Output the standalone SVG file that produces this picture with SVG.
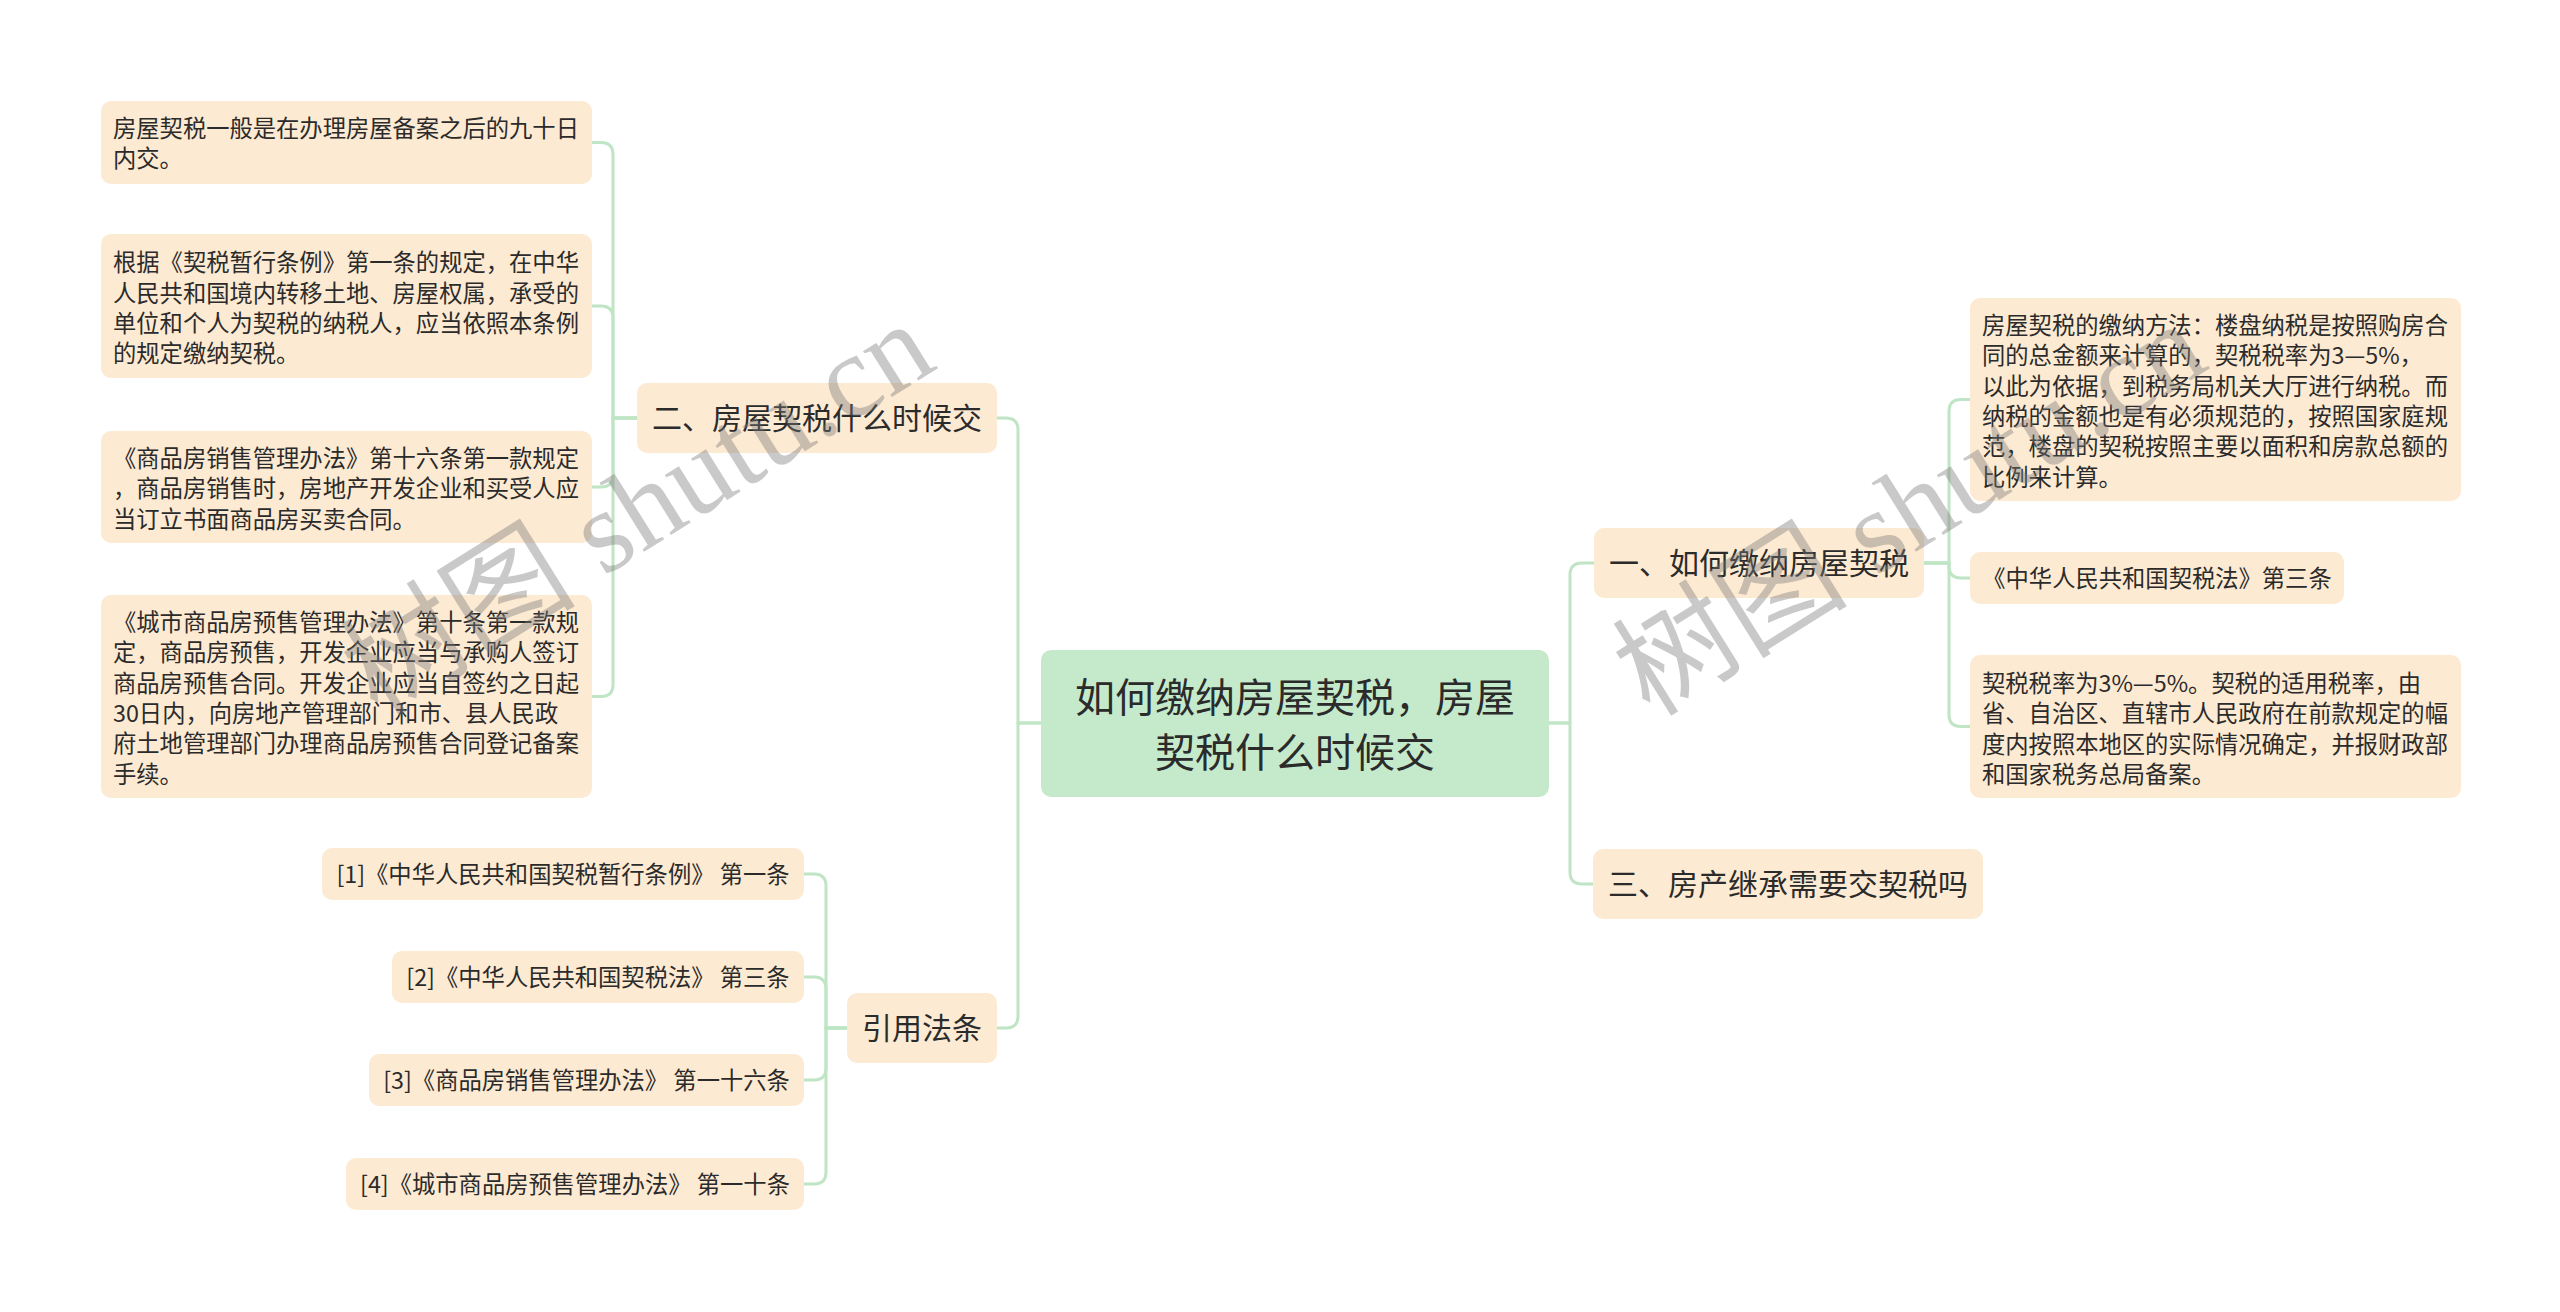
<svg xmlns="http://www.w3.org/2000/svg" width="2560" height="1312" viewBox="0 0 2560 1312">
<style>
.bg{fill:#ffffff}
.leaf{fill:#fdead2}
.root{fill:#c5eacb}
.t{font-family:"Noto Sans CJK SC","Noto Sans",sans-serif;fill:#2b2b2b}
.t40{font-size:40px}
.t30{font-size:30px}
.t23{font-size:23.3px}
.mid{text-anchor:middle}
.conn path{fill:none;stroke:#bfe5c5;stroke-width:3;stroke-linecap:round}
.wm{font-family:"Liberation Serif","Noto Sans CJK SC",serif;font-size:118px;fill:#7a7a7a;opacity:0.4}
</style>
<rect class="bg" x="0" y="0" width="2560" height="1312"/>
<g id="connectors" class="conn">
<path d="M1041 723 H1018 V430 Q1018 418 1006 418 H997"/>
<path d="M1041 723 H1018 V1016 Q1018 1028 1006 1028 H997"/>
<path d="M1549 723 H1570 V575 Q1570 563 1582 563 H1594"/>
<path d="M1549 723 H1570 V872 Q1570 884 1582 884 H1593"/>
<path d="M637 418 H613 V154.5 Q613 142.5 601 142.5 H592"/>
<path d="M637 418 H613 V318 Q613 306 601 306 H592"/>
<path d="M637 418 H613 V475 Q613 487 601 487 H592"/>
<path d="M637 418 H613 V684.5 Q613 696.5 601 696.5 H592"/>
<path d="M847 1028 H826 V886 Q826 874 814 874 H804"/>
<path d="M847 1028 H826 V989 Q826 977 814 977 H804"/>
<path d="M847 1028 H826 V1068 Q826 1080 814 1080 H804"/>
<path d="M847 1028 H826 V1172 Q826 1184 814 1184 H804"/>
<path d="M1924 563 H1949 V411.5 Q1949 399.5 1961 399.5 H1970"/>
<path d="M1924 563 H1949 V566 Q1949 578 1961 578 H1970"/>
<path d="M1924 563 H1949 V714.5 Q1949 726.5 1961 726.5 H1970"/>
</g>
<g id="root">
<rect class="root" x="1041" y="650" width="508" height="147" rx="10"/>
<text class="t t40 mid" x="1295" y="712">如何缴纳房屋契税，房屋</text>
<text class="t t40 mid" x="1295" y="767">契税什么时候交</text>
</g>
<g id="n-er">
<rect class="leaf" x="637" y="383" width="360" height="70" rx="10"/>
<text class="t t30 mid" x="817" y="429.4">二、房屋契税什么时候交</text>
</g>
<g id="n-yinyong">
<rect class="leaf" x="847" y="993" width="150" height="70" rx="10"/>
<text class="t t30 mid" x="922" y="1039.4">引用法条</text>
</g>
<g id="n-yi">
<rect class="leaf" x="1594" y="528" width="330" height="70" rx="10"/>
<text class="t t30 mid" x="1759" y="574.4">一、如何缴纳房屋契税</text>
</g>
<g id="n-san">
<rect class="leaf" x="1593" y="849" width="390" height="70" rx="10"/>
<text class="t t30 mid" x="1788" y="895.4">三、房产继承需要交契税吗</text>
</g>
<g id="n-a1">
<rect class="leaf" x="101" y="101" width="491" height="83" rx="10"/>
<text class="t t23" x="113" y="137">房屋契税一般是在办理房屋备案之后的九十日</text>
<text class="t t23" x="113" y="167.3">内交。</text>
</g>
<g id="n-a2">
<rect class="leaf" x="101" y="234" width="491" height="144" rx="10"/>
<text class="t t23" x="113" y="271.4">根据《契税暂行条例》第一条的规定，在中华</text>
<text class="t t23" x="113" y="301.7">人民共和国境内转移土地、房屋权属，承受的</text>
<text class="t t23" x="113" y="332">单位和个人为契税的纳税人，应当依照本条例</text>
<text class="t t23" x="113" y="362.3">的规定缴纳契税。</text>
</g>
<g id="n-a3">
<rect class="leaf" x="101" y="431" width="491" height="112" rx="10"/>
<text class="t t23" x="113" y="467">《商品房销售管理办法》第十六条第一款规定</text>
<text class="t t23" x="113" y="497.3">，商品房销售时，房地产开发企业和买受人应</text>
<text class="t t23" x="113" y="527.6">当订立书面商品房买卖合同。</text>
</g>
<g id="n-a4">
<rect class="leaf" x="101" y="595" width="491" height="203" rx="10"/>
<text class="t t23" x="113" y="631.1">《城市商品房预售管理办法》第十条第一款规</text>
<text class="t t23" x="113" y="661.4">定，商品房预售，开发企业应当与承购人签订</text>
<text class="t t23" x="113" y="691.7">商品房预售合同。开发企业应当自签约之日起</text>
<text class="t t23" x="113" y="722">30日内，向房地产管理部门和市、县人民政</text>
<text class="t t23" x="113" y="752.3">府土地管理部门办理商品房预售合同登记备案</text>
<text class="t t23" x="113" y="782.6">手续。</text>
</g>
<g id="n-b1">
<rect class="leaf" x="322" y="848" width="482" height="52" rx="10"/>
<text class="t t23 mid" x="563" y="883">[1]《中华人民共和国契税暂行条例》 第一条</text>
</g>
<g id="n-b2">
<rect class="leaf" x="392" y="951" width="412" height="52" rx="10"/>
<text class="t t23 mid" x="598" y="986">[2]《中华人民共和国契税法》 第三条</text>
</g>
<g id="n-b3">
<rect class="leaf" x="369" y="1054" width="435" height="52" rx="10"/>
<text class="t t23 mid" x="586.5" y="1089">[3]《商品房销售管理办法》 第一十六条</text>
</g>
<g id="n-b4">
<rect class="leaf" x="346" y="1158" width="458" height="52" rx="10"/>
<text class="t t23 mid" x="575" y="1193">[4]《城市商品房预售管理办法》 第一十条</text>
</g>
<g id="n-c1">
<rect class="leaf" x="1970" y="298" width="491" height="203" rx="10"/>
<text class="t t23" x="1982" y="334.1">房屋契税的缴纳方法：楼盘纳税是按照购房合</text>
<text class="t t23" x="1982" y="364.4">同的总金额来计算的，契税税率为3—5%，</text>
<text class="t t23" x="1982" y="394.7">以此为依据，到税务局机关大厅进行纳税。而</text>
<text class="t t23" x="1982" y="425">纳税的金额也是有必须规范的，按照国家庭规</text>
<text class="t t23" x="1982" y="455.3">范，楼盘的契税按照主要以面积和房款总额的</text>
<text class="t t23" x="1982" y="485.6">比例来计算。</text>
</g>
<g id="n-c2">
<rect class="leaf" x="1970" y="552" width="374" height="52" rx="10"/>
<text class="t t23 mid" x="2157" y="587">《中华人民共和国契税法》第三条</text>
</g>
<g id="n-c3">
<rect class="leaf" x="1970" y="655" width="491" height="143" rx="10"/>
<text class="t t23" x="1982" y="691.9">契税税率为3%—5%。契税的适用税率，由</text>
<text class="t t23" x="1982" y="722.2">省、自治区、直辖市人民政府在前款规定的幅</text>
<text class="t t23" x="1982" y="752.5">度内按照本地区的实际情况确定，并报财政部</text>
<text class="t t23" x="1982" y="782.8">和国家税务总局备案。</text>
</g>
<g id="watermarks">
<text class="wm" transform="translate(378 718) rotate(-32)">树图 shutu.cn</text>
<text class="wm" transform="translate(1650 718) rotate(-32)">树图 shutu.cn</text>
</g>
</svg>
